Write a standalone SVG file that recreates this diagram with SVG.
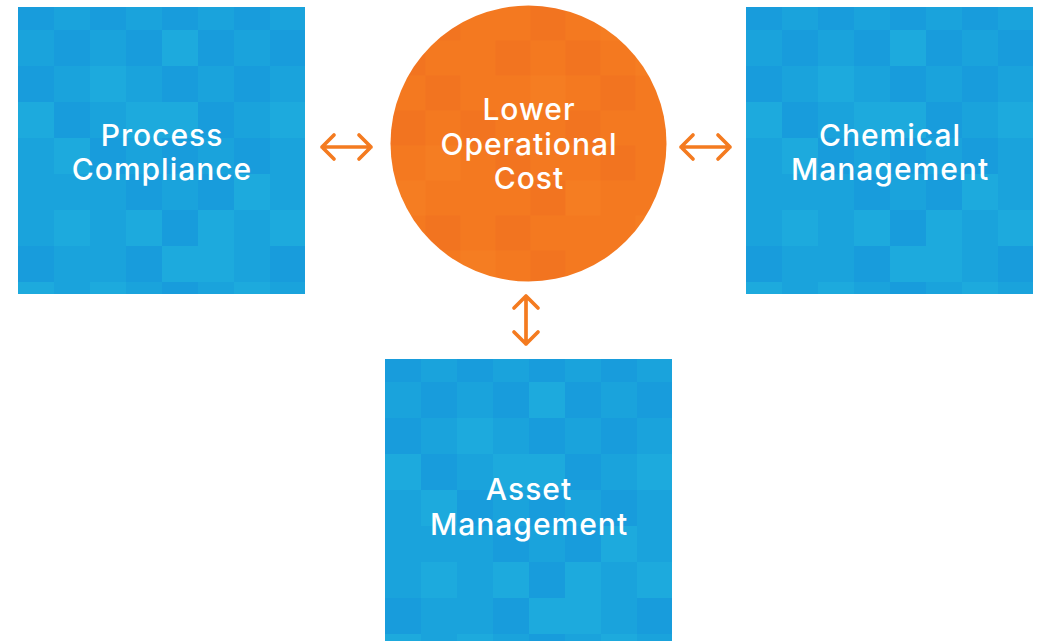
<svg xmlns="http://www.w3.org/2000/svg" width="1038" height="641" viewBox="0 0 1038 641">
<style>
.lbl{font-family:"Inter","Open Sans","Liberation Sans",sans-serif;font-size:30px;font-weight:500;letter-spacing:1px;fill:#ffffff;text-anchor:middle}
.arr{fill:none;stroke:#F47B20;stroke-width:3.7;stroke-linecap:round;stroke-linejoin:round}
.a{fill:#1AA3DC}.d{fill:#189CDC}.l{fill:#1DAADD}
.oa{fill:#F47920}.od{fill:#F27420}.ol{fill:#F57D22}
</style>
<defs>
<g id="bluetiles">
<rect class="a" x="0" y="0" width="288" height="288"/>
<rect class="d" x="0" y="0" width="36" height="23"/><rect class="d" x="72" y="0" width="36" height="23"/><rect class="d" x="144" y="0" width="36" height="23"/><rect class="d" x="216" y="0" width="36" height="23"/>
<rect class="d" x="36" y="23" width="36" height="36"/><rect class="d" x="108" y="23" width="36" height="36"/><rect class="l" x="144" y="23" width="36" height="36"/><rect class="d" x="180" y="23" width="36" height="36"/><rect class="d" x="252" y="23" width="36" height="36"/>
<rect class="d" x="0" y="59" width="36" height="36"/><rect class="l" x="72" y="59" width="36" height="36"/><rect class="d" x="144" y="59" width="36" height="36"/><rect class="d" x="216" y="59" width="36" height="36"/>
<rect class="l" x="0" y="95" width="36" height="36"/><rect class="d" x="36" y="95" width="36" height="36"/><rect class="l" x="108" y="95" width="36" height="36"/><rect class="l" x="144" y="95" width="36" height="36"/><rect class="d" x="180" y="95" width="36" height="36"/><rect class="l" x="252" y="95" width="36" height="36"/>
<rect class="l" x="36" y="131" width="36" height="36"/><rect class="d" x="72" y="131" width="36" height="36"/><rect class="d" x="144" y="131" width="36" height="36"/><rect class="d" x="216" y="131" width="36" height="36"/>
<rect class="d" x="108" y="167" width="36" height="36"/><rect class="d" x="180" y="167" width="36" height="36"/><rect class="l" x="216" y="167" width="36" height="36"/>
<rect class="l" x="36" y="203" width="36" height="36"/><rect class="l" x="108" y="203" width="36" height="36"/><rect class="d" x="144" y="203" width="36" height="36"/><rect class="l" x="180" y="203" width="36" height="36"/><rect class="l" x="252" y="203" width="36" height="36"/>
<rect class="d" x="0" y="239" width="36" height="36"/><rect class="d" x="108" y="239" width="36" height="36"/><rect class="l" x="144" y="239" width="36" height="36"/><rect class="l" x="180" y="239" width="36" height="36"/><rect class="d" x="252" y="239" width="36" height="36"/>
<rect class="l" x="0" y="275" width="36" height="13"/><rect class="l" x="72" y="275" width="36" height="13"/><rect class="d" x="144" y="275" width="36" height="13"/><rect class="l" x="216" y="275" width="36" height="13"/>
</g>
<pattern id="bluepat" patternUnits="objectBoundingBox" width="1" height="1" patternContentUnits="userSpaceOnUse">
<use href="#bluetiles"/>
</pattern>
<pattern id="orpat" patternUnits="objectBoundingBox" width="1" height="1" patternContentUnits="userSpaceOnUse">
<rect class="oa" x="0" y="0" width="280" height="280"/>
<rect class="od" x="35" y="0" width="35" height="35"/><rect class="od" x="140" y="0" width="35" height="35"/><rect class="ol" x="210" y="0" width="35" height="35"/>
<rect class="od" x="0" y="35" width="35" height="35"/><rect class="od" x="105" y="35" width="35" height="35"/><rect class="od" x="175" y="35" width="35" height="35"/><rect class="ol" x="245" y="35" width="35" height="35"/>
<rect class="od" x="35" y="70" width="35" height="35"/><rect class="ol" x="140" y="70" width="35" height="35"/><rect class="od" x="210" y="70" width="35" height="35"/>
<rect class="od" x="0" y="105" width="35" height="35"/><rect class="od" x="70" y="105" width="35" height="35"/><rect class="od" x="175" y="105" width="35" height="35"/>
<rect class="ol" x="35" y="140" width="35" height="35"/><rect class="od" x="105" y="140" width="35" height="35"/><rect class="od" x="210" y="140" width="35" height="35"/>
<rect class="ol" x="0" y="175" width="35" height="35"/><rect class="od" x="140" y="175" width="35" height="35"/><rect class="ol" x="175" y="175" width="35" height="35"/>
<rect class="od" x="35" y="210" width="35" height="35"/><rect class="od" x="105" y="210" width="35" height="35"/><rect class="ol" x="245" y="210" width="35" height="35"/>
<rect class="ol" x="70" y="245" width="35" height="35"/><rect class="od" x="140" y="245" width="35" height="35"/>
</pattern>
</defs>
<rect width="1038" height="641" fill="#ffffff"/>
<g id="process-compliance">
<rect x="18" y="7" width="287" height="287" fill="url(#bluepat)"/>
<text class="lbl" x="162" y="146">Process</text>
<text class="lbl" x="162" y="180">Compliance</text>
</g>
<g id="lower-operational-cost">
<circle cx="528.5" cy="143.5" r="138" fill="url(#orpat)"/>
<text class="lbl" x="529" y="120">Lower</text>
<text class="lbl" x="529" y="155">Operational</text>
<text class="lbl" x="529" y="189">Cost</text>
</g>
<g id="chemical-management">
<rect x="746" y="7" width="287" height="287" fill="url(#bluepat)"/>
<text class="lbl" x="890" y="146">Chemical</text>
<text class="lbl" x="890" y="180">Management</text>
</g>
<g id="asset-management">
<rect x="385" y="359" width="287" height="287" fill="url(#bluepat)"/>
<text class="lbl" x="529" y="500">Asset</text>
<text class="lbl" x="529" y="535">Management</text>
</g>
<g id="connectors">
<path class="arr" d="M322 147H371M334 135L322 147L334 159M359 135L371 147L359 159"/>
<path class="arr" d="M681 147H730M693 135L681 147L693 159M718 135L730 147L718 159"/>
<path class="arr" d="M526 296V344M514 308L526 296L538 308M514 332L526 344L538 332"/>
</g>
</svg>
